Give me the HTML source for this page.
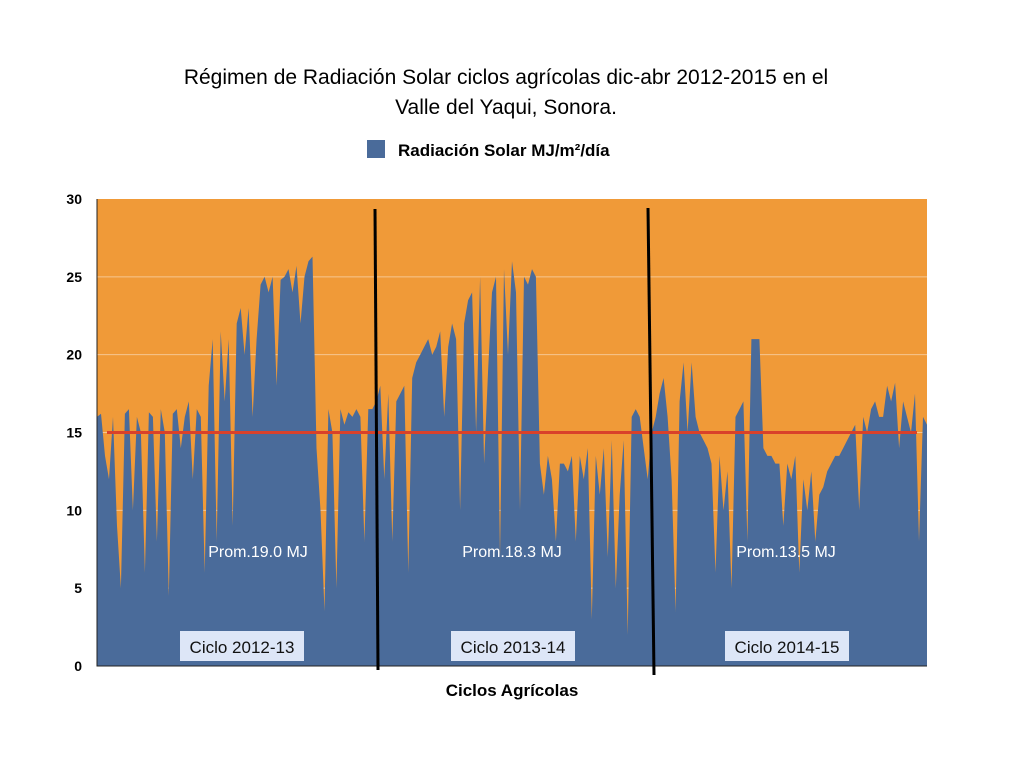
<!DOCTYPE html>
<html><head><meta charset="utf-8"><style>
body{margin:0;background:#fff;width:1024px;height:768px;overflow:hidden;font-family:"Liberation Sans",sans-serif}
</style></head><body>
<svg width="1024" height="768" xmlns="http://www.w3.org/2000/svg">
<text x="506" y="84" text-anchor="middle" font-size="21">Régimen de Radiación Solar ciclos agrícolas dic-abr 2012-2015 en el</text>
<text x="506" y="114" text-anchor="middle" font-size="21">Valle del Yaqui, Sonora.</text>
<rect x="367" y="140" width="18" height="18" fill="#4a6b9a"/>
<text x="398" y="156" font-size="17" font-weight="bold">Radiación Solar MJ/m²/día</text>
<g id="plot"></g>
<text x="512" y="696" text-anchor="middle" font-size="17" font-weight="bold">Ciclos Agrícolas</text>
</svg>
<script>
const yTicks=[0,5,10,15,20,25,30];
const cycleLabels=["Ciclo 2012-13","Ciclo 2013-14","Ciclo 2014-15"];
const avgLabels=["Prom.19.0 MJ","Prom.18.3 MJ","Prom.13.5 MJ"];
const refValue=15;
const radiation=[16,16.2,13.5,12,16,9,5,16.2,16.5,10,16,15,6,16.3,16,8,16.5,15,4.5,16.2,16.5,14,16,17,12,16.5,16,6,18,21,8,21.5,17,21,9,22,
23,20,23,16,21,24.5,25,24,25,18,24.8,25,25.5,24,25.7,22,25,26,26.3,
14,10,3.5,16.5,15,5,16.5,15.5,16.3,16,16.5,16,8,16.5,16.5,
17,18,12,17.5,8,17,17.5,18,6,18.5,19.5,20,20.5,21,20,20.5,21.5,16,20.5,22,21,10,22,23.5,24,15,25,13,19,24,25,7,25.5,20,26,24,10,25,24.5,25.5,25,
13,11,13.5,12,8,13,13,12.5,13.5,8,13.5,12,14,3,13.5,11,14,7,14.5,5,11,14.5,2,
16,16.5,16,14,12,
15,16,17.5,18.5,16,12,3.5,17,19.5,15,19.5,16,15,14.5,14,13,6,13.5,10,12.5,5,16,16.5,17,8,21,21,21,14,13.5,13.5,13,13,9,13,12,13.5,6,12,10,12.5,8,11,11.5,12.5,13,13.5,13.5,14,14.5,15,15.5,10,16,15,16.5,17,16,16,18,17,18.2,14,17,16,15,17.5,8,16,15.5];
const L=97,R=927,T=199,B=666;
const NS="http://www.w3.org/2000/svg";
const g=document.getElementById('plot');
const y=v=>B-(v/30)*(B-T);
const x=i=>L+i*(R-L)/(radiation.length-1);
function mk(t,a){const e=document.createElementNS(NS,t);for(const k in a)e.setAttribute(k,a[k]);g.appendChild(e);return e;}
let bg=mk('rect',{x:L,y:T,width:R-L,height:B-T,fill:'#f09a38'});


yTicks.forEach(t=>{
 if(t>0&&t<30){let gl=mk('line',{x1:L,x2:R,y1:y(t),y2:y(t),stroke:'#f6c690','stroke-width':1});
 
 }
 let tx=mk('text',{x:82,y:y(t)+5,'text-anchor':'end','font-size':14,'font-weight':'bold'});
 tx.textContent=t;
 
 
});
let d='M'+L+','+B;
radiation.forEach((v,i)=>{d+=' L'+x(i).toFixed(1)+','+y(v).toFixed(1);});
d+=' L'+R+','+B+' Z';
let area=mk('path',{d:d,fill:'#4a6b9a'});


let ref=mk('line',{x1:107,x2:917,y1:y(refValue),y2:y(refValue),stroke:'#d9412a','stroke-width':3});


let ax=mk('path',{d:`M${L},${T} L${L},${B} L${R},${B}`,fill:'none',stroke:'#222','stroke-width':1});


[[375,209,378,670],[648,208,654,675]].forEach(s=>{
 let ln=mk('line',{x1:s[0],y1:s[1],x2:s[2],y2:s[3],stroke:'#000','stroke-width':3});
 
 
});
const cx=[242,513,787],ax2=[258,512,786];
avgLabels.forEach((s,i)=>{
 let t=mk('text',{x:ax2[i],y:557,'text-anchor':'middle','font-size':16,fill:'#fff'});
 t.textContent=s;
 
 
});
cycleLabels.forEach((s,i)=>{
 let r=mk('rect',{x:cx[i]-62,y:631,width:124,height:30,fill:'#dde6f7'});
 
 
 let t=mk('text',{x:cx[i],y:653,'text-anchor':'middle','font-size':17,fill:'#111'});
 t.textContent=s;
 
 
});
</script>
</body></html>
